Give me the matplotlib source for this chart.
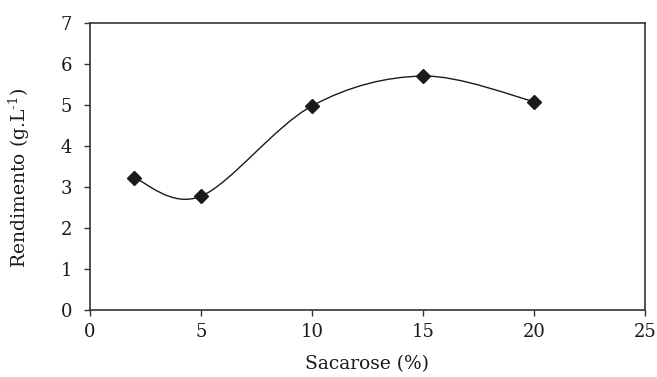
import matplotlib
matplotlib.use("Agg")
import matplotlib.pyplot as plt
from matplotlib.path import Path
from matplotlib.patches import PathPatch
import numpy as np

sacarose = [2, 5, 10, 15, 20]
rendimento = [3.22, 2.77, 4.97, 5.70, 5.08]
x_ticks = [0, 5, 10, 15, 20, 25]
y_ticks = [0, 1, 2, 3, 4, 5, 6, 7]
x_label = "Sacarose (%)"
y_label = "Rendimento (g.L$^{\\mathregular{\u20101}}$)"

plt.rcParams['font.family'] = ['DejaVu Serif']
plt.rcParams['mathtext.fontset'] = 'dejavuserif'

fig = plt.figure(figsize=(6.57, 3.77), dpi=100)
ax = fig.add_axes([89.7/657, 1-310/377, (645-89.7)/657, (310-22.7)/377])

# smoothed line (Catmull-Rom Bezier through the data points)
pts = np.column_stack([sacarose, rendimento])
n = len(pts)
verts = [tuple(pts[0])]
codes = [Path.MOVETO]
for i in range(n - 1):
    p0 = pts[max(i - 1, 0)]
    p1 = pts[i]
    p2 = pts[i + 1]
    p3 = pts[min(i + 2, n - 1)]
    c1 = p1 + (p2 - p0) / 6.0
    c2 = p2 - (p3 - p1) / 6.0
    verts += [tuple(c1), tuple(c2), tuple(p2)]
    codes += [Path.CURVE4] * 3
ax.add_patch(PathPatch(Path(verts, codes), facecolor='none', edgecolor='#1a1a1a', lw=1.0, zorder=2))

ax.plot(sacarose, rendimento, linestyle='none', marker='D', ms=7.4,
        color='#1a1a1a', zorder=3)

ax.set_xlim(0, 25)
ax.set_ylim(0, 7)
ax.set_xticks(x_ticks)
ax.set_yticks(y_ticks)
ax.tick_params(direction='out', length=4.5, width=1.0, colors='#333333',
               labelsize=13, labelcolor='#1a1a1a')
ax.tick_params(axis='x', pad=5)
ax.tick_params(axis='y', pad=8)
for s in ax.spines.values():
    s.set_linewidth(1.2)
    s.set_color('#333333')

ax.set_xlabel(x_label, fontsize=13.4, color='#1a1a1a')
ax.set_ylabel(y_label, fontsize=13.5, color='#1a1a1a')
ax.xaxis.set_label_coords(0.5, -0.158)
ax.yaxis.set_label_coords(-0.104, 0.46)

fig.savefig("out.png", dpi=100)
